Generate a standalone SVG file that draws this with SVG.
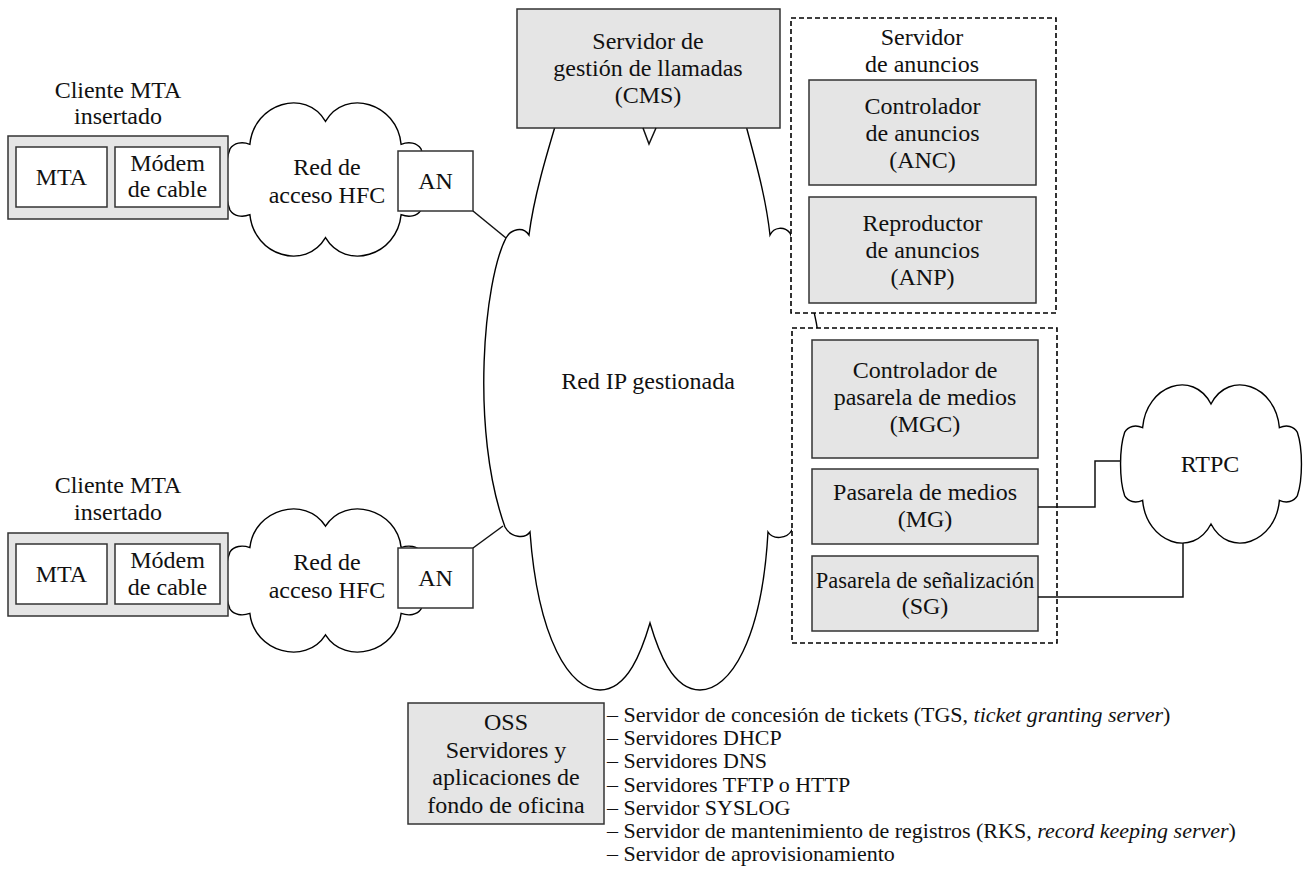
<svg xmlns="http://www.w3.org/2000/svg" xmlns:xlink="http://www.w3.org/1999/xlink" width="1305" height="895" viewBox="0 0 1305 895">
<style>
text{font-family:'Liberation Serif','DejaVu Serif',serif;font-size:24px;fill:#111;text-anchor:middle}
text.l{font-size:22px;text-anchor:start}
.g{fill:#e5e5e5;stroke:#333;stroke-width:1.5}
.w{fill:#fff;stroke:#333;stroke-width:1.5}
.d{fill:#fff;stroke:#000;stroke-width:1.6;stroke-dasharray:5 3}
.c{fill:#fff;stroke:#000;stroke-width:1.4}
.ln{fill:none;stroke:#111;stroke-width:1.5}
</style>
<defs>
<path id="cloud" vector-effect="non-scaling-stroke" d="M0.02,0.30 C0.04,0.26 0.08,0.25 0.12,0.27 C0.14,0.0 0.40,-0.10 0.50,0.12 C0.60,-0.10 0.86,0.0 0.88,0.27 C0.92,0.25 0.96,0.26 0.98,0.30 C1.01,0.40 1.01,0.60 0.98,0.70 C0.96,0.74 0.92,0.75 0.88,0.73 C0.86,1.0 0.60,1.10 0.50,0.88 C0.40,1.10 0.14,1.0 0.12,0.73 C0.08,0.75 0.04,0.74 0.02,0.70 C-0.01,0.60 -0.01,0.40 0.02,0.30 Z"/>
</defs>
<g font-family="Liberation Serif, DejaVu Serif, serif">
<g id="ipnet">
<path class="c" d="M560,110 C548,150 534,195 529,235 C523,226 511,229 506,238 C484,280 470,430 505,527 C511,538 525,539 530,532 C538,640 570,690 600,690 C628,690 642,650 650,623 C658,650 672,690 700,690 C730,690 762,640 768,532 C773,540 787,539 792,530 C826,450 840,360 790,233 C784,226 774,227 770,235 C765,190 752,150 742,110 Z"/>
<text x="648" y="389">Red IP gestionada</text>
</g>

<g id="hfc1">
<use xlink:href="#cloud" class="c" transform="translate(226,103) scale(199,153)"/>
<text x="327" y="175">Red de</text>
<text x="327" y="203">acceso HFC</text>
</g>
<g id="hfc2">
<use xlink:href="#cloud" class="c" transform="translate(226,509) scale(199,143)"/>
<text x="327" y="570">Red de</text>
<text x="327" y="598">acceso HFC</text>
</g>
<g id="rtpc">
<use xlink:href="#cloud" class="c" transform="translate(1121,385) scale(180,158)"/>
<text x="1210" y="472">RTPC</text>
</g>

<g id="mta1">
<text x="118" y="98">Cliente MTA</text>
<text x="118" y="124">insertado</text>
<rect class="g" x="8" y="136" width="220" height="83"/>
<rect class="w" x="16" y="147" width="91" height="60"/>
<text x="61.5" y="185">MTA</text>
<rect class="w" x="115" y="147" width="105" height="60"/>
<text x="167.5" y="171">Módem</text>
<text x="167.5" y="197">de cable</text>
</g>
<g id="mta2">
<text x="118" y="493">Cliente MTA</text>
<text x="118" y="520">insertado</text>
<rect class="g" x="8" y="533" width="220" height="83"/>
<rect class="w" x="16" y="544" width="91" height="60"/>
<text x="61.5" y="582">MTA</text>
<rect class="w" x="115" y="544" width="105" height="60"/>
<text x="167.5" y="568">Módem</text>
<text x="167.5" y="595">de cable</text>
</g>

<g id="an1">
<rect class="w" x="398" y="151" width="75" height="60"/>
<text x="435.5" y="189">AN</text>
</g>
<g id="an2">
<rect class="w" x="398" y="548" width="75" height="60"/>
<text x="435.5" y="586">AN</text>
</g>

<g id="cms">
<rect class="g" x="517" y="9" width="263" height="119"/>
<text x="648" y="49">Servidor de</text>
<text x="648" y="76">gestión de llamadas</text>
<text x="648" y="103">(CMS)</text>
<polyline class="ln" points="643,128 649,144 656,128"/>
</g>

<g id="anuncios">
<rect class="d" x="791" y="18" width="265" height="295"/>
<text x="922" y="45">Servidor</text>
<text x="922" y="72">de anuncios</text>
</g>
<g id="anc">
<rect class="g" x="809" y="80" width="227" height="105"/>
<text x="922.5" y="114">Controlador</text>
<text x="922.5" y="141">de anuncios</text>
<text x="922.5" y="168">(ANC)</text>
</g>
<g id="anp">
<rect class="g" x="809" y="197" width="227" height="106"/>
<text x="922.5" y="231">Reproductor</text>
<text x="922.5" y="258">de anuncios</text>
<text x="922.5" y="285">(ANP)</text>
</g>

<g id="pasarelas">
<rect class="d" x="792" y="328" width="265" height="315"/>
</g>
<g id="mgc">
<rect class="g" x="812" y="340" width="226" height="118"/>
<text x="925" y="378">Controlador de</text>
<text x="925" y="405">pasarela de medios</text>
<text x="925" y="432">(MGC)</text>
</g>
<g id="mg">
<rect class="g" x="812" y="469" width="226" height="75"/>
<text x="925" y="500">Pasarela de medios</text>
<text x="925" y="527">(MG)</text>
</g>
<g id="sg">
<rect class="g" x="812" y="556" width="226" height="75"/>
<text x="925" y="588" style="font-size:22.5px">Pasarela de señalización</text>
<text x="925" y="614">(SG)</text>
</g>

<g id="oss">
<rect class="g" x="408" y="703" width="196" height="121"/>
<text x="506" y="730">OSS</text>
<text x="506" y="758">Servidores y</text>
<text x="506" y="785">aplicaciones de</text>
<text x="506" y="813">fondo de oficina</text>
</g>
<g id="osslist">
<text class="l" x="607" y="722">– Servidor de concesión de tickets (TGS, <tspan font-style="italic">ticket granting server</tspan>)</text>
<text class="l" x="607" y="745">– Servidores DHCP</text>
<text class="l" x="607" y="768">– Servidores DNS</text>
<text class="l" x="607" y="792">– Servidores TFTP o HTTP</text>
<text class="l" x="607" y="815">– Servidor SYSLOG</text>
<text class="l" x="607" y="838">– Servidor de mantenimiento de registros (RKS, <tspan font-style="italic">record keeping server</tspan>)</text>
<text class="l" x="607" y="861">– Servidor de aprovisionamiento</text>
</g>

<g id="connectors">
<line class="ln" x1="473" y1="211" x2="506" y2="238"/>
<line class="ln" x1="473" y1="548" x2="503" y2="526"/>
<polyline class="ln" points="1038,507 1095,507 1095,461 1121,461"/>
<polyline class="ln" points="1038,597 1183,597 1183,543"/>
</g>
</g>
</svg>
